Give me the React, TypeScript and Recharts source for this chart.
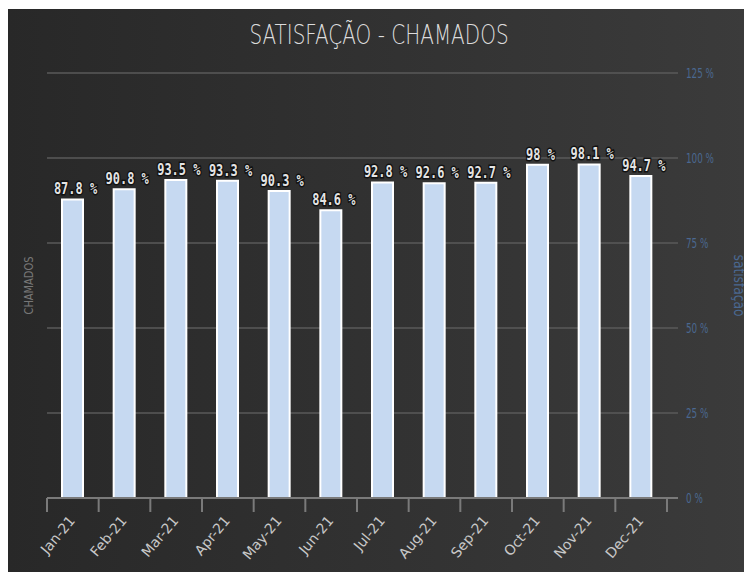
import { Bar, BarChart, CartesianGrid, LabelList, XAxis, YAxis } from "recharts";

const months = ["Jan-21", "Feb-21", "Mar-21", "Apr-21", "May-21", "Jun-21", "Jul-21", "Aug-21", "Sep-21", "Oct-21", "Nov-21", "Dec-21"];
const satisfacao = [87.8, 90.8, 93.5, 93.3, 90.3, 84.6, 92.8, 92.6, 92.7, 98, 98.1, 94.7];
const pctTicks = [0, 25, 50, 75, 100, 125];

const data = months.map((m, i) => ({ month: m, satisfacao: satisfacao[i] }));

const sans = '"DejaVu Sans", sans-serif';

function MonthTick(props: any) {
  const { x, y, payload, index } = props;
  const half = payload?.offset || 25.85;
  const last = index === months.length - 1;
  return (
    <g>
      <line x1={x - half} x2={x - half} y1={y} y2={y + 14} stroke="#7a7a7a" strokeWidth={2} />
      {last && <line x1={x + half} x2={x + half} y1={y} y2={y + 14} stroke="#7a7a7a" strokeWidth={2} />}
      <text
        x={x + 3}
        y={y + 23}
        textAnchor="end"
        fill="#c8c8c8"
        fontSize={14}
        fontFamily={sans}
        transform={`rotate(-50, ${x + 3}, ${y + 23})`}
      >
        {payload.value}
      </text>
    </g>
  );
}

function PctTick(props: any) {
  const { x, y, payload } = props;
  const s = `${payload.value} %`;
  return (
    <text
      x={x}
      y={y + 5}
      textAnchor="start"
      fill="#4a6890"
      fontSize={14}
      fontFamily={sans}
      textLength={s.length * 5.6}
      lengthAdjust="spacingAndGlyphs"
    >
      {s}
    </text>
  );
}

function ValueLabel(props: any) {
  const { x, y, width, value } = props;
  const s = `${value} %`;
  return (
    <text
      x={x + width / 2 + 3}
      y={y - 5}
      textAnchor="middle"
      fill="#e4e4e4"
      stroke="#111"
      strokeWidth={3}
      paintOrder="stroke"
      fontSize={15}
      fontWeight="bold"
      fontFamily='"DejaVu Sans Mono", monospace'
      textLength={s.length * 7.2}
      lengthAdjust="spacingAndGlyphs"
    >
      {s}
    </text>
  );
}

export default function App() {
  return (
    <div
      style={{
        position: "relative",
        left: -2,
        top: 1,
        width: 746,
        height: 564,
        background: "linear-gradient(to right, #282828, #3b3b3b)",
      }}
    >
      <div
        style={{
          position: "absolute",
          top: 10,
          left: 0,
          width: 746,
          textAlign: "center",
          color: "#dcdcdc",
          fontSize: 27,
          fontFamily: sans,
          fontWeight: 300,
          transform: "scaleX(0.74)",
          zIndex: 1,
        }}
      >
        SATISFAÇÃO - CHAMADOS
      </div>
      <BarChart
        width={746}
        height={564}
        data={data}
        margin={{ top: 64, right: 0, bottom: 0, left: 0 }}
        barSize={21}
        style={{ position: "absolute", top: 0, left: 0 }}
      >
        <CartesianGrid vertical={false} stroke="#5a5a5a" strokeWidth={1.5} yAxisId="right" />
        <XAxis
          dataKey="month"
          interval={0}
          height={75}
          padding={{ left: 0, right: 11 }}
          tickLine={false}
          tickSize={0}
          tickMargin={0}
          axisLine={{ stroke: "#7a7a7a", strokeWidth: 2 }}
          tick={<MonthTick />}
        />
        <YAxis
          yAxisId="left"
          orientation="left"
          width={41}
          tick={false}
          tickLine={false}
          axisLine={false}
          domain={[0, 125]}
          label={({ viewBox }: any) => (
            <text
              x={viewBox.x + 27}
              y={viewBox.y + viewBox.height / 2}
              textAnchor="middle"
              fill="#777"
              fontSize={13}
              fontFamily={sans}
              textLength={58}
              lengthAdjust="spacingAndGlyphs"
              transform={`rotate(-90, ${viewBox.x + 27}, ${viewBox.y + viewBox.height / 2})`}
            >
              CHAMADOS
            </text>
          )}
        />
        <YAxis
          yAxisId="right"
          orientation="right"
          width={74}
          domain={[0, 125]}
          ticks={pctTicks}
          tickLine={false}
          axisLine={false}
          tick={<PctTick />}
          label={({ viewBox }: any) => (
            <text
              x={viewBox.x + 56}
              y={viewBox.y + viewBox.height / 2}
              textAnchor="middle"
              fill="#4a6890"
              fontSize={15}
              fontFamily={sans}
              textLength={62}
              lengthAdjust="spacingAndGlyphs"
              transform={`rotate(90, ${viewBox.x + 56}, ${viewBox.y + viewBox.height / 2})`}
            >
              satisfação
            </text>
          )}
        />
        <Bar
          dataKey="satisfacao"
          yAxisId="right"
          fill="#c6d9f1"
          stroke="#ffffff"
          strokeWidth={2}
          isAnimationActive={false}
        >
          <LabelList dataKey="satisfacao" content={<ValueLabel />} />
        </Bar>
      </BarChart>
    </div>
  );
}
